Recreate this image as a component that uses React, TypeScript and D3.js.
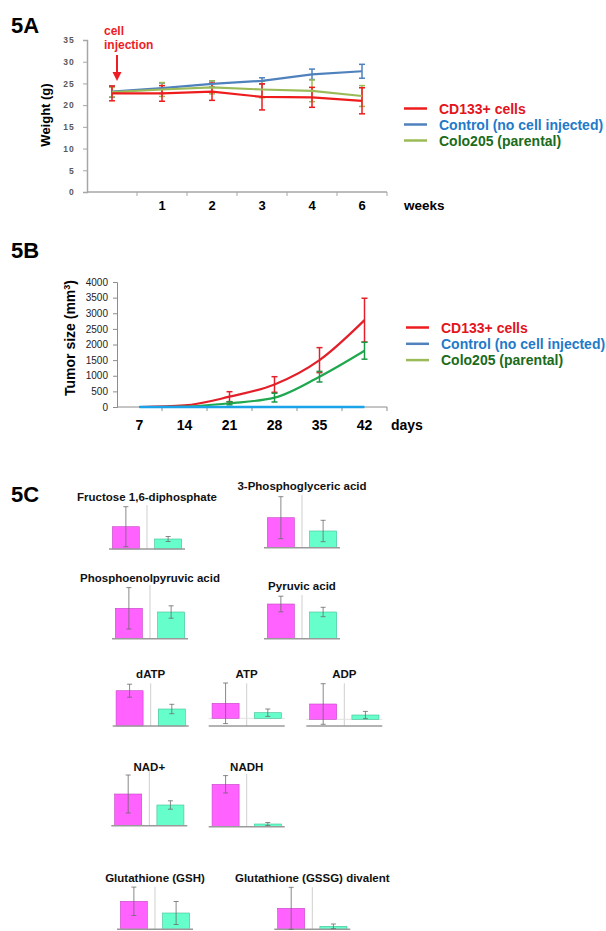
import React, { useEffect, useRef } from "react";
import * as d3 from "d3";

const FONT = "'Liberation Sans', Arial, Helvetica, sans-serif";

// 5A - body weight (g) per week
const weekLabels = ["", "1", "2", "3", "4", "6"];
const weightCD133 = [22.7, 22.7, 23.1, 21.9, 21.8, 21.0];
const weightCD133Err = [1.7, 1.8, 2.0, 3.0, 2.3, 3.0];
const weightControl = [23.1, 23.9, 24.9, 25.6, 27.1, 27.8];
const weightControlErr = [1.3, 1.2, 0.7, 0.7, 1.2, 1.6];
const weightColo = [23.0, 23.6, 24.1, 23.6, 23.3, 22.1];
const weightColoErr = [1.1, 1.6, 1.5, 1.9, 2.5, 2.4];

// 5B - tumor size (mm3) per day
const tumorDays = [7, 14, 21, 28, 35, 42];
const tumorCD133 = [0, 50, 330, 720, 1500, 2780];
const tumorCD133Err = [0, 0, 160, 250, 400, 700];
const tumorControl = [0, 0, 0, 0, 0, 0];
const tumorColo = [0, 15, 120, 300, 970, 1800];
const tumorColoErr = [0, 0, 50, 140, 170, 270];

// legend
const legendLabels = ["CD133+ cells", "Control (no cell injected)", "Colo205 (parental)"];
const legendTextColors = ["#e3141b", "#1f7ac9", "#1a6b1a"];
const legendLineColors = ["#ee1c1c", "#4f81bd", "#9bbb59"];

// 5C - metabolites (relative levels, arbitrary units)
const metabolites = [
  "Fructose 1,6-diphosphate",
  "3-Phosphoglyceric acid",
  "Phosphoenolpyruvic acid",
  "Pyruvic acid",
  "dATP",
  "ATP",
  "ADP",
  "NAD+",
  "NADH",
  "Glutathione (GSH)",
  "Glutathione (GSSG) divalent",
];
const groups = ["CD133+", "Colo205"];
const cd133Level = [22.3, 30, 30.4, 34.7, 35.3, 15, 15.3, 31.7, 42.4, 28, 21];
const cd133LevelErr = [20, 21, 20.7, 7.8, 6.5, 20.3, 20.3, 19, 8.7, 14.2, 21];
const coloLevel = [10, 16.7, 26.7, 26.7, 17, 5.6, 4.3, 20.7, 2.7, 16.3, 3];
const coloLevelErr = [2.5, 10.7, 6.2, 4.7, 4.7, 3.7, 3.6, 4.2, 1.5, 11.5, 2.3];

// where each small panel sits on the page
const panelLayout = [
  { cx: 147, base: 549, titleY: 501, top: 44, floor: 0 },
  { cx: 302, base: 547.7, titleY: 490, top: 52.7, floor: 0 },
  { cx: 150, base: 638.7, titleY: 582, top: 53.7, floor: 0 },
  { cx: 302, base: 638.7, titleY: 590, top: 43.7, floor: 0 },
  { cx: 150.7, base: 726, titleY: 678, top: 42.7, floor: 0 },
  { cx: 246.7, base: 726, titleY: 678, top: 35, floor: 7.7 },
  { cx: 344.3, base: 726, titleY: 678, top: 36, floor: 6.7 },
  { cx: 149.3, base: 825.7, titleY: 771, top: 55, floor: 0 },
  { cx: 246.7, base: 826.7, titleY: 771, top: 52.7, floor: 0 },
  { cx: 155, base: 929.3, titleY: 882, top: 42.6, floor: 0 },
  { cx: 312.3, base: 929.3, titleY: 882, top: 42, floor: 0 },
];

function drawLegend(g, x0, y0, dy) {
  legendLabels.forEach((label, i) => {
    const yy = y0 + i * dy;
    g.append("line")
      .attr("x1", x0).attr("x2", x0 + 23)
      .attr("y1", yy).attr("y2", yy)
      .attr("stroke", legendLineColors[i]).attr("stroke-width", 2.5);
    g.append("text")
      .attr("x", x0 + 35).attr("y", yy + 5)
      .attr("font-size", 14).attr("font-weight", "bold")
      .attr("fill", legendTextColors[i])
      .text(label);
  });
}

function errorBars(g, xs, vals, errs, y, color, width, cap) {
  vals.forEach((v, i) => {
    const e = errs[i];
    if (!e) return;
    const x = xs(i);
    const eg = g.append("g").attr("stroke", color).attr("stroke-width", width);
    eg.append("line").attr("x1", x).attr("x2", x).attr("y1", y(v - e)).attr("y2", y(v + e));
    eg.append("line").attr("x1", x - cap).attr("x2", x + cap).attr("y1", y(v - e)).attr("y2", y(v - e));
    eg.append("line").attr("x1", x - cap).attr("x2", x + cap).attr("y1", y(v + e)).attr("y2", y(v + e));
  });
}

function drawWeight(svg) {
  const g = svg.append("g");
  g.append("text").attr("x", 11).attr("y", 33).attr("font-size", 22).attr("font-weight", "bold").text("5A");

  const x = d3.scaleBand().domain(d3.range(weekLabels.length)).range([87, 387]);
  const y = d3.scaleLinear().domain([0, 35]).range([192, 40]);
  const cx = (i) => x(i) + x.bandwidth() / 2;

  const yAxis = g.append("g").attr("transform", "translate(87,0)")
    .call(d3.axisLeft(y).tickValues(d3.range(0, 36, 5)).tickSize(4).tickPadding(8));
  yAxis.attr("font-family", FONT).attr("font-size", 8.5);
  yAxis.select(".domain").attr("stroke", "#a6a6a6").attr("stroke-width", 1.5);
  yAxis.selectAll(".tick line").attr("stroke", "#a6a6a6");
  yAxis.selectAll(".tick text").attr("font-weight", "bold").attr("fill", "#595959").attr("letter-spacing", 1.2);

  const xAxis = g.append("g").attr("transform", "translate(0,192)")
    .call(d3.axisBottom(x).tickFormat((i) => weekLabels[i]).tickSize(0).tickPadding(9));
  xAxis.attr("font-family", FONT).attr("font-size", 13).attr("font-weight", "bold");
  xAxis.select(".domain").remove();
  g.append("line").attr("x1", 87).attr("x2", 387).attr("y1", 192).attr("y2", 192)
    .attr("stroke", "#a6a6a6").attr("stroke-width", 1.5);
  g.selectAll(".xtick").data(d3.range(1, weekLabels.length + 1)).join("line")
    .attr("x1", (i) => (i < weekLabels.length ? x(i) : x.range()[1]))
    .attr("x2", (i) => (i < weekLabels.length ? x(i) : x.range()[1]))
    .attr("y1", 192).attr("y2", 196).attr("stroke", "#a6a6a6");

  g.append("text").attr("transform", "translate(50,115) rotate(-90)")
    .attr("text-anchor", "middle").attr("font-size", 13).attr("font-weight", "bold").text("Weight (g)");
  g.append("text").attr("x", 404).attr("y", 210).attr("font-size", 13.5).attr("font-weight", "bold").text("weeks");

  const line = d3.line().x((_, i) => cx(i)).y((d) => y(d));
  const series = [
    { vals: weightControl, errs: weightControlErr, color: "#4f81bd" },
    { vals: weightColo, errs: weightColoErr, color: "#9bbb59" },
    { vals: weightCD133, errs: weightCD133Err, color: "#ee1c1c" },
  ];
  series.forEach((s) => {
    errorBars(g, cx, s.vals, s.errs, y, s.color, 1.5, 3);
  });
  series.forEach((s) => {
    g.append("path").attr("d", line(s.vals)).attr("fill", "none")
      .attr("stroke", s.color).attr("stroke-width", 2.2);
  });

  // cell injection annotation
  g.append("text").attr("x", 104).attr("y", 35).attr("font-size", 12).attr("font-weight", "bold")
    .attr("fill", "#ee1c25").text("cell");
  g.append("text").attr("x", 104).attr("y", 49).attr("font-size", 12).attr("font-weight", "bold")
    .attr("fill", "#ee1c25").text("injection");
  g.append("line").attr("x1", 117).attr("x2", 117).attr("y1", 55).attr("y2", 74)
    .attr("stroke", "#ee1c25").attr("stroke-width", 2);
  g.append("path").attr("d", "M112.5,72 L121.5,72 L117,81 Z").attr("fill", "#ee1c25");

  drawLegend(g, 404, 108.5, 16);
}

function drawTumor(svg) {
  const g = svg.append("g");
  g.append("text").attr("x", 11).attr("y", 258).attr("font-size", 22).attr("font-weight", "bold").text("5B");

  const x = d3.scaleBand().domain(tumorDays).range([117, 387]);
  const y = d3.scaleLinear().domain([0, 4000]).range([407, 282]);
  const cx = (i) => x(tumorDays[i]) + x.bandwidth() / 2;

  const yAxis = g.append("g").attr("transform", "translate(117,0)")
    .call(d3.axisLeft(y).tickValues(d3.range(0, 4001, 500)).tickFormat(d3.format("d")).tickSize(4).tickPadding(5));
  yAxis.attr("font-family", FONT).attr("font-size", 10);
  yAxis.select(".domain").attr("stroke", "#8c8c8c");
  yAxis.selectAll(".tick line").attr("stroke", "#8c8c8c");
  yAxis.selectAll(".tick text").attr("fill", "#222");

  const xAxis = g.append("g").attr("transform", "translate(0,407)")
    .call(d3.axisBottom(x).tickSize(0).tickPadding(13));
  xAxis.attr("font-family", FONT).attr("font-size", 14).attr("font-weight", "bold");
  xAxis.select(".domain").remove();
  g.append("line").attr("x1", 117).attr("x2", 387).attr("y1", 407).attr("y2", 407).attr("stroke", "#8c8c8c");
  g.selectAll(".xtick").data(d3.range(1, tumorDays.length + 1)).join("line")
    .attr("x1", (i) => (i < tumorDays.length ? x(tumorDays[i]) : x.range()[1]))
    .attr("x2", (i) => (i < tumorDays.length ? x(tumorDays[i]) : x.range()[1]))
    .attr("y1", 407).attr("y2", 411).attr("stroke", "#8c8c8c");

  const lab = g.append("text").attr("transform", "translate(75,338) rotate(-90)")
    .attr("text-anchor", "middle").attr("font-size", 14).attr("font-weight", "bold");
  lab.append("tspan").text("Tumor size (mm");
  lab.append("tspan").attr("font-size", 9).attr("dy", -5).text("3");
  lab.append("tspan").attr("dy", 5).text(")");
  g.append("text").attr("x", 391).attr("y", 430).attr("font-size", 14).attr("font-weight", "bold").text("days");

  const line = d3.line().x((_, i) => cx(i)).y((d) => y(d)).curve(d3.curveMonotoneX);
  g.append("path").attr("d", line(tumorCD133)).attr("fill", "none").attr("stroke", "#e3202a").attr("stroke-width", 2.2);
  g.append("path").attr("d", line(tumorColo)).attr("fill", "none").attr("stroke", "#1fa84f").attr("stroke-width", 2.2);
  errorBars(g, cx, tumorCD133, tumorCD133Err, y, "#e3202a", 1.5, 3);
  errorBars(g, cx, tumorColo, tumorColoErr, y, "#1a9a46", 1.5, 3);
  g.append("path").attr("d", line(tumorControl)).attr("fill", "none").attr("stroke", "#1aa3e8").attr("stroke-width", 2.5);

  drawLegend(g, 406, 327.5, 16.3);
}

function drawMetabolites(svg) {
  const g = svg.append("g");
  g.append("text").attr("x", 11).attr("y", 502).attr("font-size", 22).attr("font-weight", "bold").text("5C");

  metabolites.forEach((name, k) => {
    const p = panelLayout[k];
    const y = d3.scaleLinear().domain([-p.floor, p.top]).range([p.base, p.base - p.floor - p.top]);
    const x = d3.scaleBand().domain(groups).range([p.cx - 38, p.cx + 38]).paddingInner(0.36).paddingOuter(0.08);
    const pg = g.append("g");

    pg.append("text").attr("x", p.cx).attr("y", p.titleY).attr("text-anchor", "middle")
      .attr("font-size", 11.5).attr("font-weight", "bold").attr("fill", "#111").text(name);

    pg.append("line").attr("x1", p.cx).attr("x2", p.cx).attr("y1", y(p.top)).attr("y2", p.base)
      .attr("stroke", "#cfcfcf").attr("stroke-width", 1);
    if (p.floor > 0) {
      pg.append("line").attr("x1", p.cx - 38).attr("x2", p.cx + 38).attr("y1", y(0)).attr("y2", y(0))
        .attr("stroke", "#e2e2e2").attr("stroke-width", 1);
    }

    const bars = [
      { grp: groups[0], v: cd133Level[k], e: cd133LevelErr[k], fill: "#ff62ff", stroke: "#c448c4" },
      { grp: groups[1], v: coloLevel[k], e: coloLevelErr[k], fill: "#66ffcc", stroke: "#40bf94" },
    ];
    pg.selectAll("rect").data(bars).join("rect")
      .attr("x", (d) => x(d.grp)).attr("width", x.bandwidth())
      .attr("y", (d) => y(d.v)).attr("height", (d) => y(0) - y(d.v))
      .attr("fill", (d) => d.fill).attr("stroke", (d) => d.stroke).attr("stroke-width", 0.6);

    pg.append("line").attr("x1", p.cx - 38).attr("x2", p.cx + 38).attr("y1", p.base).attr("y2", p.base)
      .attr("stroke", "#9a9a9a").attr("stroke-width", 1.5);

    const bx = (i) => x(bars[i].grp) + x.bandwidth() / 2;
    errorBars(pg, bx, bars.map((d) => d.v), bars.map((d) => d.e), y, "#6b6b6b", 0.8, 2.5);
  });
}

const App = () => {
  const ref = useRef(null);
  useEffect(() => {
    const svg = d3.select(ref.current);
    svg.selectAll("*").remove();
    drawWeight(svg);
    drawTumor(svg);
    drawMetabolites(svg);
  }, []);
  return (
    <svg
      ref={ref}
      width={606}
      height={931}
      fontFamily={FONT}
      style={{ position: "absolute", left: 0, top: 0, background: "#fff" }}
    />
  );
};

export default App;
